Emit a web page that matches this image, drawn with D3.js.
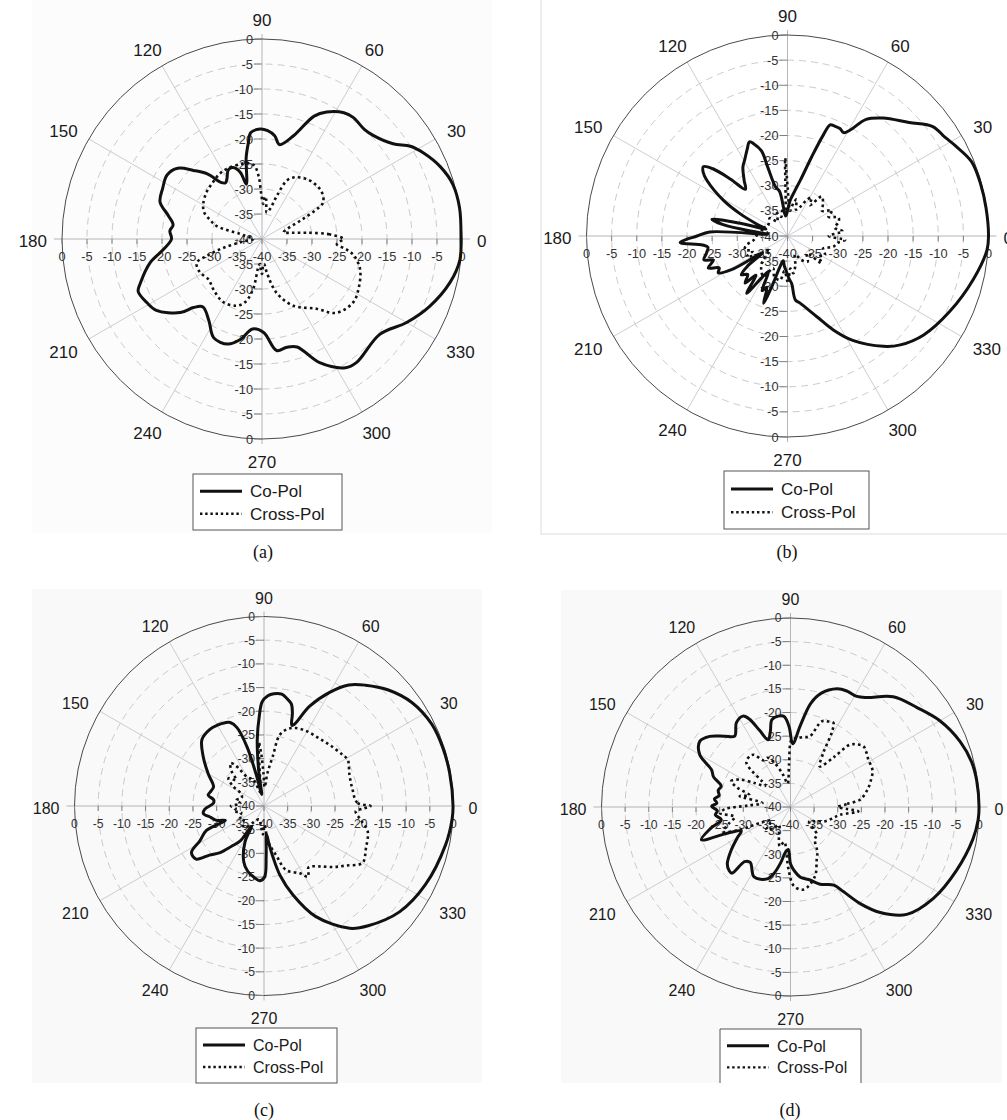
<!DOCTYPE html>
<html>
<head>
<meta charset="utf-8">
<script src="https://cdn.jsdelivr.net/npm/d3@7"></script>
<style>
  body { margin: 0; background: #ffffff; }
  svg { display: block; font-family: Arial, "Liberation Sans", sans-serif; }
</style>
</head>
<body>
<svg id="vis" width="1007" height="1120"></svg>
<script>
/*
 * Four polar radiation patterns (Co-Pol / Cross-Pol), dB scale -40..0
 */

const ANGLE_TICKS = [0, 30, 60, 90, 120, 150, 180, 210, 240, 270, 300, 330];
const DB_TICKS = [0, -5, -10, -15, -20, -25, -30, -35, -40];
const SERIES_NAMES = ["Co-Pol", "Cross-Pol"];
const PANEL_LABELS = ["(a)", "(b)", "(c)", "(d)"];

// [angle in degrees, level in dB]
const A_CO = [[0,-0.2],[9,0],[16,-0.3],[22,-1.5],[28,-3.4],[32,-5],[36,-7.6],[43,-9.6],[47,-10],[53,-9.6],[57,-9.9],
  [63,-11.5],[67,-13.3],[73,-18.4],[79.5,-20.8],[83,-19.2],[87,-18.3],[91,-18],[96,-18.6],[98,-20.5],[101,-23.4],
  [106,-28.6],[108,-26],[112,-24.6],[116,-24.6],[120,-26],[123,-26.6],[126,-26],[130,-23],[135,-20.6],[140,-18],
  [146,-17.1],[153,-17.7],[160,-18.3],[166,-20.7],[171,-22],[175,-21.5],[180,-21.9],[186,-20.2],[192,-17.1],
  [200,-14.1],[203,-13.1],[209,-13.7],[214,-14.5],[222,-18],[225,-20.6],[229,-22],[237,-20.5],[244,-18],[252,-17.9],
  [258,-19.5],[264,-21.9],[271,-21.3],[277.5,-17.5],[283,-17.8],[288,-17.3],[295,-12.7],[303,-9.3],[307.5,-8.9],
  [321,-9.7],[330,-6.6],[338,-3.9],[347,-1.4],[354,-0.2]];
const A_CROSS = [[0,-23.7],[4,-26.5],[8,-31],[12,-34],[17,-35.5],[22,-34.5],[26,-31],[29,-27],[31,-25.7],[38,-24.8],
  [44,-24.7],[51,-24.9],[58,-25.5],[63,-26.2],[67,-27.3],[71,-30.9],[75,-33.8],[80,-34.6],[84,-32],[86,-31.5],[88,-33],
  [91,-31],[93,-27.5],[96,-25.2],[100,-24.6],[106,-24.4],[117,-24.3],[124,-24.5],[131,-25],[140,-25.5],[149,-26.3],
  [155,-27.2],[160,-29],[164,-30.5],[167,-35.5],[172,-37.5],[180,-38.3],[188,-36],[193,-32],[197,-28.5],[200,-26.1],
  [208,-25.9],[217,-26.6],[226,-26],[238,-25.2],[249,-25.7],[255,-26.9],[260,-29.9],[263,-34.6],[266,-35],[268,-33.5],
  [270,-33],[272,-34.5],[275,-35],[278,-33.3],[285,-28.9],[295,-25.3],[308,-22.3],[315,-19.1],[325,-17.8],[333,-18.3],
  [343,-19.5],[350,-21.4],[353,-23],[356,-25],[358,-24.5]];

const B_CO = [[0,0],[8,-0.1],[15,-0.2],[22,-0.5],[28,-2],[32,-3],[37,-3.8],[43,-6.9],[51,-9.8],[56,-12],[59.4,-15.5],
  [61.5,-16.6],[64,-16.2],[67,-16.2],[69,-16.3],[70.5,-18.7],[73,-23.5],[77,-28.6],[81,-31],[86,-33],[90,-35],[95,-36],
  [100,-31],[103.6,-30],[106,-25.8],[107,-22.3],[110,-20.5],[112,-19.8],[115,-21],[119,-22.5],[123,-23.7],[128,-26],
  [132,-27.5],[135,-24],[138,-20],[140.5,-18.3],[143,-19],[145.5,-20.6],[151,-25.5],[155,-29.7],[159,-33.6],[162,-35.5],
  [165,-30],[167.5,-24.6],[170,-27],[173,-34],[175,-36],[177,-24.5],[180,-22],[183.5,-18.6],[186,-23],[188,-24],
  [192,-23.5],[196,-22.7],[198,-24.5],[202,-23],[205,-25],[208,-24.4],[211,-27],[214,-34],[217,-30],[220,-28],
  [224,-29],[228,-27.4],[231,-30],[234.6,-26],[238,-30],[242,-32],[245,-28],[248,-29],[250.4,-25.8],[253,-30],
  [256,-33.5],[260,-35],[264,-34],[268,-33],[272,-31.5],[275,-30.5],[277,-27.2],[280.6,-26.4],[290,-22.9],[296,-19.2],
  [302,-15.5],[311,-10.9],[316,-8.8],[324,-6.5],[335,-4.4],[347,-2],[356,-0.2]];
const B_CROSS = [[0,-31.8],[5,-29],[10,-30.5],[15,-29.5],[20,-29.2],[25,-31],[30,-29.8],[36,-31.5],[42,-30.5],
  [49,-29.6],[54,-32.4],[58,-31],[62,-31.9],[66,-33.6],[72,-34.5],[76,-32.5],[80,-33.4],[84,-35],[87,-34],[90,-30],
  [91.7,-24.5],[93,-33],[96,-36],[100,-34.5],[108,-36],[115,-35],[125,-36.5],[135,-35],[145,-35.5],[156,-35.5],
  [165,-34.5],[172,-36],[178,-34],[187,-33.2],[193,-31.5],[198,-31.1],[203,-32.5],[207,-30.9],[212,-33],[218,-35.5],
  [225,-33],[232,-31.5],[239.5,-30.6],[246,-33],[252,-31.5],[260.5,-31.1],[265,-33],[270.8,-30.6],[275,-33.5],
  [279,-32.5],[285,-34],[292,-36],[300,-34.5],[308,-33.5],[318,-34.8],[321.5,-31.3],[327,-32.5],[333,-31.6],
  [340,-32.5],[347,-30.6],[352,-30],[356,-28.5]];

const C_CO = [[0,-0.1],[10,-0.2],[18,-0.3],[26,-0.6],[35,-1.9],[43,-4.1],[50,-6.7],[55,-8.8],[60,-12.3],[65.5,-16.9],
  [69.6,-21.6],[71,-22],[73,-19.5],[75,-17.7],[78,-16.8],[81,-16.1],[85,-16.2],[88,-16.7],[91,-18],[93,-21],
  [95.8,-25.9],[98.8,-33],[101,-37.5],[104,-33],[106,-27],[109,-22.5],[112,-21],[115,-20.6],[120,-20.3],[125,-20.2],
  [133,-20.8],[141,-23.5],[150,-26.4],[159,-28.6],[164,-28.4],[169,-28],[173,-29.3],[177,-29.3],[183,-27.5],
  [187,-27.1],[192,-28.5],[197,-29.6],[200.5,-31.3],[203,-26.8],[208.5,-24.6],[212.7,-21.8],[218,-21.8],[222,-24.5],
  [226.7,-26.5],[231,-29],[235.8,-31.1],[237,-33.5],[239,-35],[242,-31.5],[250,-27.5],[256,-25.8],[262,-24.8],
  [267,-24.2],[270.5,-25],[272.5,-29.5],[275,-34],[277.5,-32],[280,-29],[283,-25],[288,-20.3],[295,-14.3],
  [305,-8.5],[311,-6.5],[322,-3.7],[334,-2.1],[348,-0.8],[356,-0.2]];
const C_CROSS = [[0,-17.5],[2,-20.3],[11,-21],[20,-20.8],[29,-19.8],[33,-20.2],[42,-21],[51,-21.6],[60,-21.8],
  [67.6,-22.2],[73,-23],[77.6,-24.7],[80,-29.4],[84,-33],[88,-36],[91,-33],[93,-29],[94.6,-26.6],[96,-30],[99,-35],
  [105,-37],[112,-34],[120,-33],[125,-29.5],[128,-28.5],[133,-30],[137,-32],[142,-30.5],[147,-32],[152,-34.5],
  [160,-35],[168,-34],[174,-35],[180,-33],[185,-34],[190,-33.5],[196,-35],[204,-34.2],[212,-35],[220,-34],[229,-34],
  [238,-36],[250,-37],[260,-36],[268,-34],[272,-36],[276.4,-32.5],[284,-29.2],[289,-25.7],[298,-23.9],[302,-22.4],
  [306,-24],[312.5,-22.7],[318.4,-20.6],[324,-18.6],[330,-16],[337.4,-16.7],[346.5,-17.5],[351.6,-19.3],
  [356.7,-20.6],[358.5,-19]];

const D_CO = [[0,-0.1],[8,-0.2],[14,-0.5],[21,-1.5],[30,-3.5],[38,-5.9],[47,-8.1],[55,-11.7],[59,-12.7],[64,-12.7],
  [68.5,-13.1],[75,-15.1],[79,-17.7],[83,-22.5],[88,-26.6],[91,-23],[94,-20.8],[97.7,-20.6],[102,-21.1],[105,-23.5],
  [108.4,-25],[112,-22.5],[115,-19.5],[117.6,-18.3],[122.7,-18.8],[128.2,-20.9],[133,-19.5],[138.8,-17.3],[144,-16.3],
  [150,-17.8],[154.7,-21.5],[158.6,-22.5],[163.3,-24.7],[167,-24.3],[171,-24.7],[174,-23.8],[177,-24.4],[179.5,-23.3],
  [183,-24.5],[186,-24],[190.4,-25.1],[195,-22.5],[200.2,-19.9],[202.6,-25.7],[206,-28.4],[210,-27],[216,-24.5],
  [222,-22],[226,-21.3],[228.5,-21.3],[230,-24.9],[234,-25.5],[242.5,-23.3],[252,-24],[256,-25.5],[260,-28],
  [263.7,-30.4],[267,-31],[270,-28],[273,-26.6],[278,-25],[285,-24],[291,-22.5],[299,-21.1],[302,-18.9],
  [305.8,-14.8],[310.4,-10.7],[317.3,-6.5],[327.4,-4.1],[339,-2.4],[350,-0.8],[356,-0.2]];
const D_CROSS = [[0,-30],[3,-28],[6,-25.2],[12.3,-23.4],[16.8,-22.4],[24,-21],[31.4,-20.7],[36,-20.2],[39.9,-19.9],
  [43.3,-20.7],[46.4,-21.8],[49,-26],[54.2,-29.4],[58.8,-26.6],[61,-22],[63,-20],[66,-20.2],[70,-20.7],[74.7,-24.5],
  [80,-25],[85,-25.4],[89,-25.7],[92,-31],[97,-35],[103,-33],[110,-30],[115,-28.5],[120,-28.6],[125,-26.5],
  [128.7,-26.2],[135,-26.8],[140,-33],[146,-31],[151.6,-27.8],[156.5,-26.3],[160,-28],[164,-31],[168,-29],[172,-34],
  [178,-31],[182,-26],[185,-25],[190,-28],[195,-26.5],[200,-24.8],[204,-28],[208,-33],[215,-35],[223.4,-33],
  [230,-34],[238,-35.5],[246,-34],[254.8,-31.4],[260,-32.5],[265,-30.2],[268,-27],[272.4,-23.3],[279,-22.3],
  [289.3,-24.4],[296.3,-27.5],[301,-29],[306.7,-31.4],[314,-32],[322,-35],[330,-34],[338,-32],[346,-30.6],
  [351,-29.4],[356.3,-25.6],[358,-28]];

/**
 * object to keep the layout numbers of each of the four panels
 */
const PANELS = [
  {cx: 262, cy: 239, R: 200, font: 17, tickFont: 12.8, co: A_CO, cross: A_CROSS,
   bg: {x: 32, y: 0, w: 460, h: 533, fill: "#fcfcfc"},
   legend: {x: 193, y: 474, w: 149, h: 56}, caption: {x: 263, y: 558}},
  {cx: 787.5, cy: 236, R: 201, font: 17, tickFont: 12.8, co: B_CO, cross: B_CROSS,
   bg: {x: 541, y: -2, w: 470, h: 536, fill: "#ffffff", stroke: "#dddddd"},
   legend: {x: 724, y: 471, w: 145, h: 58}, caption: {x: 787, y: 558}},
  {cx: 264, cy: 806, R: 189.5, font: 16, tickFont: 12.2, co: C_CO, cross: C_CROSS,
   bg: {x: 32, y: 589, w: 450, h: 494, fill: "#f9f9f9"},
   legend: {x: 196, y: 1028, w: 141, h: 55}, caption: {x: 264, y: 1116}},
  {cx: 790.5, cy: 807, R: 189, font: 16, tickFont: 12.2, co: D_CO, cross: D_CROSS,
   bg: {x: 561, y: 590, w: 441, h: 493, fill: "#f9f9f9"},
   legend: {x: 720, y: 1029, w: 141, h: 54, open: true}, caption: {x: 790, y: 1116}}
];

var PolarPlot = function(svg, cfg){
  this.svg = svg;
  this.cfg = cfg;
  this.g;        // group for this panel
  this.rScale;   // dB -> radius
  this.line;     // radial line generator

  this.setupScales = function(){
    this.rScale = d3.scaleLinear()
      .domain([-40, 0])
      .range([0, cfg.R])
      .clamp(true);

    var r = this.rScale;
    this.line = d3.lineRadial()
      .angle(function(d){ return (90 - d[0]) * Math.PI / 180; })
      .radius(function(d){ return r(d[1]); })
      .curve(d3.curveCatmullRomClosed.alpha(0.5));
  };

  this.drawBackground = function(){
    var b = cfg.bg;
    this.svg.append("rect")
      .attr("x", b.x).attr("y", b.y)
      .attr("width", b.w).attr("height", b.h)
      .attr("fill", b.fill)
      .attr("stroke", b.stroke || "none");
    this.g = this.svg.append("g")
      .attr("transform", `translate(${cfg.cx},${cfg.cy})`);
  };

  this.drawGrid = function(){
    var r = this.rScale, R = cfg.R;

    // spokes every 30 degrees
    this.g.selectAll(".spoke")
      .data(ANGLE_TICKS.filter(function(a){ return a % 90 != 0; }))
      .enter().append("line")
      .attr("class", "spoke")
      .attr("x1", 0).attr("y1", 0)
      .attr("x2", function(a){ return R * Math.cos(a * Math.PI / 180); })
      .attr("y2", function(a){ return -R * Math.sin(a * Math.PI / 180); })
      .attr("stroke", "#c6c6ce").attr("stroke-width", 0.9);

    // dashed rings
    this.g.selectAll(".ring")
      .data(DB_TICKS.filter(function(v){ return v < 0 && v > -40; }))
      .enter().append("circle")
      .attr("class", "ring")
      .attr("r", function(v){ return r(v); })
      .attr("fill", "none")
      .attr("stroke", "#c4c4c4").attr("stroke-width", 0.9)
      .attr("stroke-dasharray", "7,5");

    // axes through the centre
    this.g.append("line")
      .attr("x1", -R - 8).attr("x2", R + 8).attr("y1", 0).attr("y2", 0)
      .attr("stroke", "#b4b4bc").attr("stroke-width", 1);
    this.g.append("line")
      .attr("x1", 0).attr("x2", 0).attr("y1", -R - 5).attr("y2", R + 5)
      .attr("stroke", "#b4b4bc").attr("stroke-width", 1);

    // outer circle
    this.g.append("circle")
      .attr("r", R)
      .attr("fill", "none")
      .attr("stroke", "#4a4a4a").attr("stroke-width", 1);
  };

  this.drawLabels = function(){
    var r = this.rScale, R = cfg.R, fs = cfg.font, tfs = cfg.tickFont;

    // angle labels around the circle
    this.g.selectAll(".angleLabel")
      .data(ANGLE_TICKS)
      .enter().append("text")
      .attr("class", "angleLabel")
      .attr("x", function(a){
        var w = String(a).length * 0.556 * fs, t = a * Math.PI / 180;
        return (R + 15) * Math.cos(t) + Math.cos(t) * w / 2;
      })
      .attr("y", function(a){
        var t = a * Math.PI / 180;
        return -(R + 15) * Math.sin(t) - Math.sin(t) * 0.36 * fs + 2;
      })
      .attr("dy", "0.36em")
      .attr("text-anchor", "middle")
      .style("font-size", fs + "px")
      .style("fill", "#1a1a1a")
      .text(function(a){ return a; });

    // radial value labels on the vertical axis (top and bottom)
    var vert = [];
    DB_TICKS.forEach(function(v){
      vert.push({v: v, y: -r(v)});
      if (v > -40) vert.push({v: v, y: r(v)});
    });
    this.g.selectAll(".vTick")
      .data(vert)
      .enter().append("line")
      .attr("x1", -8).attr("x2", 0)
      .attr("y1", function(d){ return d.y; }).attr("y2", function(d){ return d.y; })
      .attr("stroke", "#808080").attr("stroke-width", 1);
    this.g.selectAll(".vLabel")
      .data(vert)
      .enter().append("text")
      .attr("x", -9)
      .attr("y", function(d){ return d.y; })
      .attr("dy", "0.36em")
      .attr("text-anchor", "end")
      .style("font-size", tfs + "px")
      .style("fill", "#333")
      .text(function(d){ return d.v; });

    // radial value labels on the horizontal axis (left and right)
    var horiz = [];
    DB_TICKS.forEach(function(v){
      horiz.push({v: v, x: -r(v)});
      if (v > -40) horiz.push({v: v, x: r(v)});
    });
    this.g.selectAll(".hTick")
      .data(horiz)
      .enter().append("line")
      .attr("x1", function(d){ return d.x; }).attr("x2", function(d){ return d.x; })
      .attr("y1", 0).attr("y2", 5)
      .attr("stroke", "#808080").attr("stroke-width", 1);
    this.g.selectAll(".hLabel")
      .data(horiz)
      .enter().append("text")
      .attr("x", function(d){ return d.x; })
      .attr("y", 22)
      .attr("text-anchor", "middle")
      .style("font-size", tfs + "px")
      .style("fill", "#333")
      .text(function(d){ return d.v; });
  };

  this.drawSeries = function(){
    this.g.append("path")
      .datum(cfg.cross)
      .attr("d", this.line)
      .attr("fill", "none")
      .attr("stroke", "#111")
      .attr("stroke-width", 2.6)
      .attr("stroke-dasharray", "2.6,3.2");
    this.g.append("path")
      .datum(cfg.co)
      .attr("d", this.line)
      .attr("fill", "none")
      .attr("stroke", "#111")
      .attr("stroke-width", 3)
      .attr("stroke-linejoin", "round");
  };

  this.drawLegend = function(label){
    var L = cfg.legend, fs = cfg.font;
    var lg = this.svg.append("g").attr("transform", `translate(${L.x},${L.y})`);
    if (L.open) {
      lg.append("path")
        .attr("d", `M0,${L.h}V0H${L.w}V${L.h}`)
        .attr("fill", "#fff").attr("stroke", "#555");
    } else {
      lg.append("rect")
        .attr("width", L.w).attr("height", L.h)
        .attr("fill", "#fff").attr("stroke", "#555");
    }
    var rowY = [L.h * 0.31, L.h * 0.71];
    SERIES_NAMES.forEach(function(name, i){
      lg.append("line")
        .attr("x1", 7).attr("x2", 49)
        .attr("y1", rowY[i]).attr("y2", rowY[i])
        .attr("stroke", "#111")
        .attr("stroke-width", i == 0 ? 3 : 2.4)
        .attr("stroke-dasharray", i == 0 ? null : "2.4,2.8");
      lg.append("text")
        .attr("x", 57).attr("y", rowY[i])
        .attr("dy", "0.36em")
        .style("font-size", fs + "px")
        .style("fill", "#1a1a1a")
        .text(name);
    });

    this.svg.append("text")
      .attr("x", cfg.caption.x).attr("y", cfg.caption.y)
      .attr("text-anchor", "middle")
      .style("font-family", "'Liberation Serif', 'Times New Roman', serif")
      .style("font-size", "18px")
      .style("fill", "#111")
      .text(label);
  };
};

function setup(){
  var svg = d3.select("#vis");
  PANELS.forEach(function(cfg, i){
    var p = new PolarPlot(svg, cfg);
    p.setupScales();
    p.drawBackground();
    p.drawGrid();
    p.drawLabels();
    p.drawSeries();
    p.drawLegend(PANEL_LABELS[i]);
  });
}

window.onload = function(){
  setup();
};
</script>
</body>
</html>
